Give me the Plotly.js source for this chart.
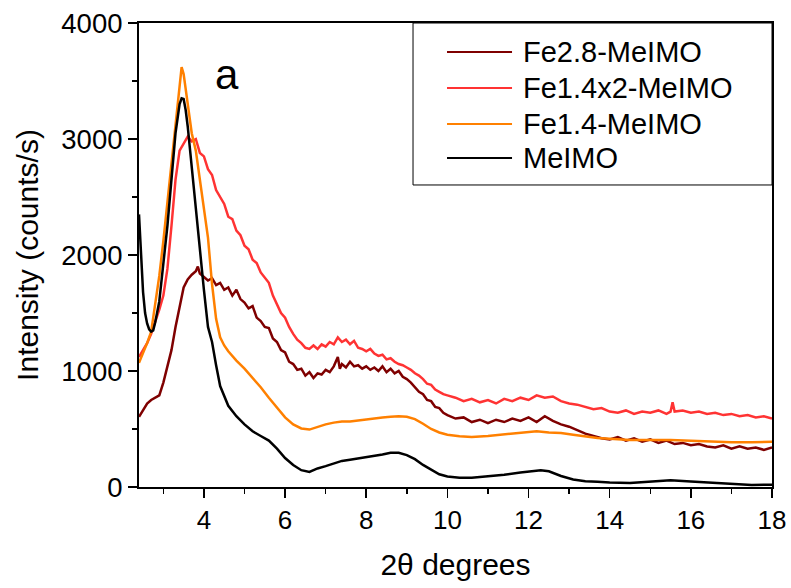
<!DOCTYPE html>
<html>
<head>
<meta charset="utf-8">
<script src="https://cdn.plot.ly/plotly-3.0.1.min.js"></script>
<style>html,body{margin:0;padding:0;background:#fff;}#chart{width:791px;height:588px;}</style>
</head>
<body>
<div id="chart"></div>
<script>
// ---- Data ----
const seriesNames = ["Fe2.8-MeIMO", "Fe1.4x2-MeIMO", "Fe1.4-MeIMO", "MeIMO"];
const seriesColors = ["#7f0000", "#ff3333", "#ff8000", "#000000"];

const fe28_x = [2.4,2.5,2.6,2.7,2.8,2.9,3.0,3.1,3.2,3.3,3.4,3.5,3.6,3.7,3.8,3.85,3.9,4.0,4.1,4.2,4.3,4.4,4.5,4.6,4.7,4.8,4.9,5.0,5.1,5.2,5.3,5.4,5.5,5.6,5.7,5.8,5.9,6.0,6.1,6.2,6.3,6.4,6.5,6.6,6.7,6.8,6.9,7.0,7.1,7.2,7.3,7.35,7.4,7.5,7.6,7.7,7.8,7.9,8.0,8.1,8.2,8.3,8.4,8.5,8.6,8.7,8.8,8.9,9.0,9.1,9.2,9.3,9.4,9.5,9.6,9.7,9.8,9.9,10.0,10.2,10.4,10.6,10.8,11.0,11.2,11.4,11.6,11.8,12.0,12.2,12.4,12.6,12.8,13.0,13.2,13.4,13.6,13.8,14.0,14.2,14.4,14.6,14.8,15.0,15.2,15.4,15.6,15.8,16.0,16.2,16.4,16.6,16.8,17.0,17.2,17.4,17.6,17.8,18.0];
const fe28_y = [605,660,720,750,770,790,900,1030,1180,1380,1560,1720,1790,1830,1860,1900,1840,1810,1780,1800,1740,1760,1700,1720,1650,1700,1620,1590,1540,1560,1460,1430,1380,1370,1280,1250,1180,1160,1080,1060,1010,1020,960,990,940,980,970,1010,990,1040,1120,1020,1060,1030,1080,1040,1050,1020,1040,1010,1030,1000,1040,990,1020,980,1000,950,930,900,860,820,800,750,740,690,680,640,620,590,600,560,580,550,580,560,590,570,600,560,610,570,540,520,490,460,440,420,410,430,400,420,390,410,380,400,370,380,360,370,350,340,360,330,350,330,340,320,340];

const fe14x2_x = [2.4,2.5,2.6,2.7,2.8,2.9,3.0,3.1,3.2,3.3,3.4,3.5,3.6,3.7,3.8,3.9,4.0,4.1,4.2,4.3,4.4,4.5,4.6,4.7,4.8,4.9,5.0,5.1,5.2,5.3,5.4,5.5,5.6,5.7,5.8,5.9,6.0,6.1,6.2,6.3,6.4,6.5,6.6,6.7,6.8,6.9,7.0,7.1,7.2,7.3,7.4,7.5,7.6,7.7,7.8,7.9,8.0,8.1,8.2,8.3,8.4,8.5,8.6,8.7,8.8,8.9,9.0,9.1,9.2,9.3,9.4,9.5,9.6,9.7,9.8,9.9,10.0,10.2,10.4,10.6,10.8,11.0,11.2,11.4,11.6,11.8,12.0,12.2,12.4,12.6,12.8,13.0,13.2,13.4,13.6,13.8,14.0,14.2,14.4,14.6,14.8,15.0,15.2,15.4,15.5,15.55,15.6,15.8,16.0,16.2,16.4,16.6,16.8,17.0,17.2,17.4,17.6,17.8,18.0];
const fe14x2_y = [1120,1180,1240,1320,1420,1530,1650,1880,2250,2650,2900,2960,3020,2980,3000,2880,2850,2740,2690,2560,2500,2440,2330,2310,2210,2170,2080,2050,1960,1930,1850,1800,1760,1650,1580,1500,1460,1380,1320,1270,1240,1200,1190,1220,1190,1230,1210,1250,1230,1290,1250,1270,1230,1260,1200,1190,1170,1190,1150,1130,1140,1100,1110,1080,1060,1050,1030,1010,980,960,930,890,880,840,820,800,790,770,740,760,730,750,720,760,740,770,750,790,770,780,740,720,710,690,670,680,650,640,660,630,650,640,660,630,650,730,650,660,640,650,630,640,620,630,610,620,600,610,590];

const fe14_x = [2.4,2.5,2.6,2.7,2.8,2.9,3.0,3.1,3.2,3.3,3.4,3.45,3.5,3.6,3.7,3.8,3.9,4.0,4.1,4.2,4.3,4.4,4.5,4.6,4.8,5.0,5.2,5.4,5.6,5.8,6.0,6.2,6.4,6.6,6.8,7.0,7.2,7.4,7.6,7.8,8.0,8.2,8.4,8.6,8.8,9.0,9.2,9.4,9.6,9.8,10.0,10.3,10.6,11.0,11.4,11.8,12.2,12.5,12.8,13.1,13.4,13.7,14.0,14.5,15.0,15.5,16.0,16.5,17.0,17.5,18.0];
const fe14_y = [1070,1150,1240,1340,1560,1820,2120,2450,2800,3150,3500,3620,3560,3300,3050,2900,2650,2400,2150,1750,1450,1290,1220,1170,1090,1020,940,860,770,680,600,540,505,495,520,540,555,565,565,575,580,590,600,605,610,605,585,545,500,470,450,438,432,440,455,470,480,470,465,450,435,423,415,405,405,405,398,390,385,385,390];

const meimo_x = [2.4,2.45,2.5,2.55,2.6,2.65,2.7,2.75,2.8,2.9,3.0,3.1,3.2,3.3,3.4,3.45,3.5,3.55,3.6,3.7,3.8,3.9,4.0,4.1,4.2,4.3,4.4,4.6,4.8,5.0,5.2,5.4,5.6,5.8,6.0,6.2,6.4,6.6,6.8,7.0,7.2,7.4,7.6,7.8,8.0,8.2,8.4,8.6,8.8,9.0,9.2,9.4,9.6,9.8,10.0,10.3,10.6,11.0,11.4,11.8,12.0,12.3,12.5,12.8,13.1,13.4,13.7,14.0,14.5,15.0,15.5,16.0,16.5,17.0,17.5,18.0];
const meimo_y = [2350,1950,1680,1500,1410,1360,1340,1350,1420,1600,1900,2250,2650,3050,3300,3350,3345,3250,3110,2750,2400,2050,1700,1380,1250,1050,870,700,610,540,480,440,400,330,250,190,145,130,160,180,205,225,235,245,260,270,280,295,295,275,240,190,150,110,90,80,80,90,105,125,135,145,135,95,65,50,45,38,35,45,58,48,38,25,18,20];

const xTickVals = [4, 6, 8, 10, 12, 14, 16, 18];
const yTickVals = [0, 1000, 2000, 3000, 4000];
const xTitle = "2θ degrees";
const yTitle = "Intensity (counts/s)";
const panelLabel = "a";

// ---- Build traces ----
const xs = [fe28_x, fe14x2_x, fe14_x, meimo_x];
const ys = [fe28_y, fe14x2_y, fe14_y, meimo_y];
const traces = seriesNames.map((n, i) => ({
  x: xs[i], y: ys[i], name: n, type: "scatter", mode: "lines",
  line: {color: seriesColors[i], width: 2.5}, showlegend: false
}));

const FONT = "Liberation Sans, Arial, sans-serif";

// custom legend (box, line samples, texts) in paper coordinates
const legX0 = 0.4329, legX1 = 1.0, legY0 = 0.6509, legY1 = 1.0;
const rowY = [0.9375, 0.8599, 0.7823, 0.7091];
const shapes = [{type: "rect", xref: "paper", yref: "paper", x0: legX0, x1: legX1, y0: legY0, y1: legY1,
  line: {color: "#000", width: 1}, fillcolor: "rgba(0,0,0,0)"}];
const annotations = [];
seriesNames.forEach((n, i) => {
  shapes.push({type: "line", xref: "paper", yref: "paper", x0: 0.4866, x1: 0.5893, y0: rowY[i], y1: rowY[i],
    line: {color: seriesColors[i], width: 2}});
  annotations.push({xref: "paper", yref: "paper", x: 0.6035, y: rowY[i], xanchor: "left", yanchor: "middle",
    text: n, showarrow: false, font: {family: FONT, size: 29, color: "#000"}});
});
annotations.push({xref: "paper", yref: "paper", x: 0.139, y: 0.888, xanchor: "center", yanchor: "middle",
  text: panelLabel, showarrow: false, font: {family: FONT, size: 42, color: "#000"}});

const layout = {
  width: 791, height: 588,
  margin: {l: 139, r: 19, t: 23, b: 101},
  paper_bgcolor: "#fff", plot_bgcolor: "#fff",
  font: {family: FONT, color: "#000"},
  showlegend: false,
  xaxis: {
    range: [2.4, 18], tickvals: xTickVals, ticktext: xTickVals.map(String),
    ticks: "outside", ticklen: 9, tickwidth: 1.5, tickcolor: "#000",
    minor: {dtick: 1, tick0: 0, ticks: "outside", ticklen: 5, tickwidth: 1.5, tickcolor: "#000"},
    showline: true, linecolor: "#000", linewidth: 2, mirror: true,
    showgrid: false, zeroline: false,
    tickfont: {family: FONT, size: 26, color: "#000"},
    title: {text: xTitle, font: {family: FONT, size: 30, color: "#000"}, standoff: 20}
  },
  yaxis: {
    range: [0, 4000], tickvals: yTickVals, ticktext: yTickVals.map(String),
    ticks: "outside", ticklen: 9, tickwidth: 1.5, tickcolor: "#000",
    minor: {dtick: 500, tick0: 0, ticks: "outside", ticklen: 5, tickwidth: 1.5, tickcolor: "#000"},
    showline: true, linecolor: "#000", linewidth: 2, mirror: true,
    showgrid: false, zeroline: false,
    tickfont: {family: FONT, size: 27.5, color: "#000"},
    title: {text: yTitle, font: {family: FONT, size: 30, color: "#000"}, standoff: 14}
  },
  shapes: shapes,
  annotations: annotations
};

Plotly.newPlot("chart", traces, layout, {displayModeBar: false, staticPlot: true});
</script>
</body>
</html>
